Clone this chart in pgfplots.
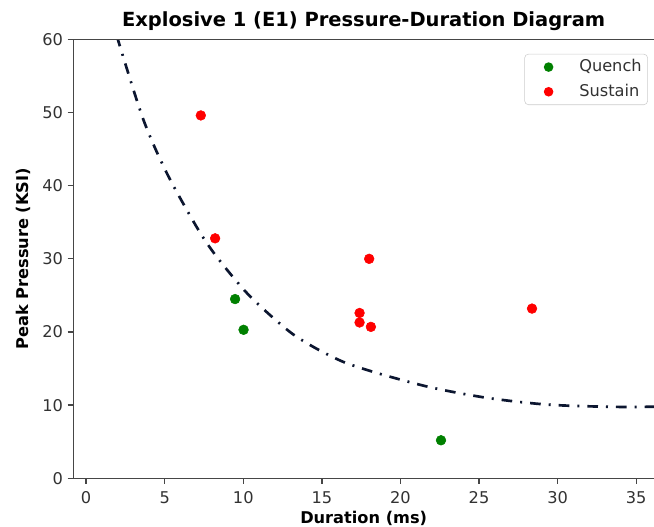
\documentclass[border=0pt]{standalone}
\usepackage{pgfplots}
\pgfplotsset{compat=1.18}
\usepackage{fontspec}
\setmainfont{DejaVu Sans}
\definecolor{spine}{RGB}{70,70,70}
\definecolor{ticktext}{RGB}{50,50,50}
\definecolor{qgreen}{RGB}{0,128,0}
\definecolor{sred}{RGB}{255,0,0}
\definecolor{curve}{RGB}{12,22,48}
\definecolor{legframe}{RGB}{204,204,204}
\pgfplotstableread{
x y
2.05 60.0
2.12 59.3
3.65 49.0
5.14 41.7
6.94 34.7
7.96 31.3
9.12 28.1
10.33 25.1
11.71 22.3
13.16 19.7
14.68 17.7
16.38 15.9
18.19 14.6
19.99 13.5
21.79 12.5
23.60 11.7
25.50 11.0
27.31 10.5
29.20 10.1
31.00 9.9
32.90 9.8
34.50 9.75
36.60 9.8
}\curvetable
\pgfplotstableread{
x y
9.48 24.5
10.02 20.3
22.58 5.2
}\quenchtable
\pgfplotstableread{
x y
7.30 49.6
8.21 32.8
18.01 30.0
17.40 22.6
17.40 21.3
18.12 20.7
28.37 23.2
}\sustaintable
\begin{document}
\begin{tikzpicture}
\begin{axis}[
  scale only axis,
  width=435.5pt, height=329.25pt,
  xmin=-0.81, xmax=36.13, ymin=0, ymax=60,
  xtick={0,5,...,35}, ytick={0,10,...,60},
  axis x line*=bottom, axis y line*=left,
  axis line style={spine, line width=1pt, -},
  tick align=outside,
  major tick length=4.25pt,
  tick style={spine, line width=1pt},
  /pgf/number format/assume math mode=true,
  tick label style={font=\fontsize{12.15}{14}\selectfont, text=ticktext},
  xticklabel style={yshift=-2.2pt},
  title={\bfseries Explosive 1 (E1) Pressure-Duration Diagram},
  title style={font=\fontsize{14.6}{17}\selectfont, at={(axis description cs:0.5,1)}, anchor=base, yshift=3.5pt},
  xlabel={\bfseries Duration (ms)},
  ylabel={\bfseries Peak Pressure (KSI)},
  label style={font=\fontsize{12.15}{14}\selectfont},
  xlabel style={at={(axis description cs:0.5,-0.0915)}, anchor=center},
  ylabel style={at={(axis description cs:-0.0852,0.5)}, anchor=center},
  legend style={at={(axis description cs:0.9896,0.967)}, anchor=north east,
    draw=legframe, rounded corners=3pt, fill=white,
    font=\fontsize{12.15}{14}\selectfont, text=ticktext,
    inner xsep=4.5pt, inner ysep=4pt, row sep=7pt,
    nodes={inner xsep=0pt, inner ysep=0pt, text height=9pt, text depth=2.5pt},
    /tikz/every odd column/.append style={column sep=0pt},
    /tikz/every even column/.append style={column sep=0pt}},
  legend cell align=left,
  legend image code/.code={%
    \path[draw=none] (0pt,0pt) (36.5pt,0pt);
    \fill[#1, draw=none] (13.5pt,0pt) circle (3.6pt);},
]
\addplot[curve, line width=2pt, dash pattern=on 8pt off 6pt on 1.5pt off 6pt, smooth, forget plot] table {\curvetable};
\addplot[only marks, mark=*, mark size=3.65pt, color=qgreen, fill=qgreen] table {\quenchtable};
\addlegendentry{Quench}
\addplot[only marks, mark=*, mark size=3.65pt, color=sred, fill=sred] table {\sustaintable};
\addlegendentry{Sustain}
\draw[spine, line width=1pt] (rel axis cs:0,1) -- (rel axis cs:1,1);
\end{axis}
\pgfresetboundingbox
\useasboundingbox (-55pt,-36.5pt) rectangle (435.5pt,358.75pt);
\end{tikzpicture}
\end{document}
